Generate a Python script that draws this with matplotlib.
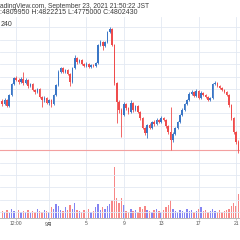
import matplotlib
matplotlib.use("Agg")
import matplotlib.pyplot as plt
import matplotlib.dates as mdates
import numpy as np
import pandas as pd

# ---------------------------------------------------------------------------
# Data (BTC/JPY, prices in thousand JPY)
# ---------------------------------------------------------------------------
start = "2021-08-27"
first_open = 5200
closes = [5177, 5209, 5160, 5250, 5339, 5388, 5372, 5355, 5380, 5347,
          5372, 5323, 5339, 5290, 5274, 5298, 5233, 5209, 5225, 5185,
          5209, 5177, 5250, 5331, 5437, 5469, 5437, 5453, 5420, 5355,
          5469, 5550, 5518, 5534, 5502, 5485, 5502, 5477, 5494, 5485,
          5510, 5656, 5681, 5648, 5681, 5762, 5786, 5656, 5347, 5193,
          5128, 5087, 5177, 5144, 5111, 5185, 5128, 5160, 5111, 5063,
          4981, 4941, 5006, 4981, 5030, 5014, 5046, 5030, 5063, 5046,
          4998, 4949, 4884, 4933, 4981, 5030, 5087, 5128, 5177, 5209,
          5258, 5274, 5242, 5282, 5225, 5266, 5250, 5233, 5209, 5225,
          5339, 5347, 5323, 5307, 5290, 5274, 5250, 5168, 5063, 4949,
          4867, 4802, 4737]
highs = [5220, 5225, 5215, 5260, 5350, 5400, 5405, 5385, 5395, 5437,
         5385, 5380, 5350, 5345, 5300, 5310, 5305, 5240, 5240, 5235,
         5220, 5215, 5260, 5340, 5450, 5480, 5475, 5465, 5460, 5425,
         5475, 5575, 5560, 5545, 5540, 5510, 5515, 5510, 5505, 5500,
         5520, 5665, 5695, 5690, 5690, 5770, 5802, 5795, 5665, 5355,
         5205, 5140, 5190, 5185, 5150, 5209, 5195, 5170, 5165, 5120,
         5070, 4990, 5015, 5020, 5040, 5045, 5060, 5055, 5075, 5070,
         5055, 5005, 5152, 4945, 4990, 5040, 5095, 5140, 5185, 5220,
         5270, 5290, 5285, 5295, 5290, 5280, 5275, 5260, 5240, 5235,
         5350, 5360, 5355, 5330, 5315, 5300, 5280, 5255, 5175, 5070,
         4960, 4880, 4815]
lows = [5160, 5165, 5150, 5155, 5240, 5330, 5360, 5340, 5345, 5335,
        5340, 5310, 5315, 5280, 5260, 5265, 5225, 5152, 5195, 5175,
        5170, 5152, 5170, 5240, 5325, 5425, 5425, 5430, 5410, 5323,
        5350, 5460, 5505, 5510, 5490, 5475, 5480, 5470, 5470, 5475,
        5480, 5505, 5645, 5615, 5640, 5675, 5755, 5645, 5330, 5022,
        5100, 4909, 5075, 5130, 5095, 5100, 5115, 5120, 5100, 5050,
        4970, 4925, 4900, 4970, 4975, 5000, 5005, 5020, 5020, 5035,
        4985, 4935, 4802, 4870, 4925, 4975, 5020, 5080, 5120, 5170,
        5200, 5250, 5230, 5235, 5215, 5215, 5240, 5225, 5200, 5200,
        5220, 5330, 5315, 5295, 5280, 5265, 5240, 5155, 5050, 4935,
        4850, 4780, 4664]
volumes = [600, 500, 700, 400, 800, 600, 500, 700, 500, 600,
           500, 700, 400, 600, 500, 800, 600, 500, 700, 600, 500, 900,
           800, 1200, 1000, 700, 600, 900, 700, 1100, 800, 1300, 700, 600,
           500, 700, 600, 800, 500, 600, 900, 1200, 700, 900, 800, 1000,
           1200, 1500, 4300, 1700, 1300, 1700, 1100,
           600, 500, 800, 600, 700, 500, 900, 800, 1000, 700, 600, 500,
           700, 800, 600, 500,
           700, 900, 1100, 1500,
           800, 600, 500, 700, 600, 500, 800, 600, 700, 500, 600, 800,
           900, 600, 700, 500, 600,
           800, 600, 500, 700, 500, 600, 700,
           800, 1000, 1300, 1000, 2000, 5400]
last_price = 4802.43

# legend lines as they show in the cropped snapshot
header1 = "adingView.com, September 23, 2021 21:50:22 JST"
header2 = ":4809950 H:4822215 L:4775000 C:4802430"
header3 = "240"
tick_dates = ["2021-08-28 12:00", "2021-09-01 00:00", "2021-09-05 00:00",
              "2021-09-09 00:00", "2021-09-13 00:00", "2021-09-17 00:00",
              "2021-09-21 00:00"]
tick_labels = ["12:00", "9月", "5", "9", "13", "17", "21"]

# ---------------------------------------------------------------------------
UP, DOWN = "#3a76c6", "#ef4c4c"
VUP, VDOWN = "#8484f2", "#f78787"
GRID = "#e3e9f3"
W, H = 240, 240

opens = [first_open] + closes[:-1]
x = mdates.date2num(pd.date_range(start, periods=len(closes), freq="6h"))
o, c = np.array(opens, float), np.array(closes, float)
up = c >= o

fig = plt.figure(figsize=(2.4, 2.4), dpi=100)
fig.patch.set_facecolor("white")

pane = [0, 22 / H, 1, 201 / H]
axv = fig.add_axes(pane)
ax = fig.add_axes(pane)
ax.patch.set_visible(False)

base = mdates.date2num(pd.Timestamp("2021-09-01"))
xlim = (base - 49 / 9.35, base + 191 / 9.35)

# volume (behind)
axv.bar(x, volumes, width=0.15, color=np.where(up, VUP, VDOWN), linewidth=0)
axv.set_ylim(0, 17000)
axv.set_xlim(*xlim)
axv.axis("off")

# price grid
ax.set_xlim(*xlim)
ax.set_ylim(4249.7, 5883.8)
ax.set_yticks(np.arange(4300, 5900, 100))
ax.set_xticks(mdates.date2num(pd.to_datetime(tick_dates, format="%Y-%m-%d %H:%M")))
ax.set_xticklabels(tick_labels)
ax.grid(True, color=GRID, linewidth=0.6, zorder=0)
ax.set_axisbelow(True)

# candles
cols = np.where(up, UP, DOWN)
ax.vlines(x, lows, highs, colors=cols, linewidth=0.6, zorder=3)
body_lo = np.minimum(o, c)
body_h = np.maximum(np.abs(c - o), 6)
ax.bar(x, body_h, bottom=body_lo, width=0.17, color=cols, linewidth=0, zorder=4)

ax.axhline(last_price, color="#f3a0a0", linewidth=0.8, zorder=2)

for s in ("top", "left", "right"):
    ax.spines[s].set_visible(False)
ax.spines["bottom"].set_color("#b8b8b8")
ax.spines["bottom"].set_linewidth(0.7)
ax.tick_params(axis="y", left=False, labelleft=False)
ax.tick_params(axis="x", length=1.5, width=0.5, color="#b8b8b8", pad=1.0,
               labelsize=3.6, labelcolor="#555555")
for t in ax.get_xticklabels():
    t.set_family(["Liberation Sans", "Noto Sans CJK JP"])

# header legend
hfont = dict(family="Liberation Sans", color="#3a3a3a", va="center", ha="left")
fig.text(0.5 / W, 1 - 6 / H, header1, fontsize=4.8, **hfont)
fig.text(0.5 / W, 1 - 12.5 / H, header2, fontsize=5.0, **hfont)
fig.text(0.5 / W, 1 - 25 / H, header3, fontsize=5.0, **hfont)

fig.savefig("out.png", dpi=100)
